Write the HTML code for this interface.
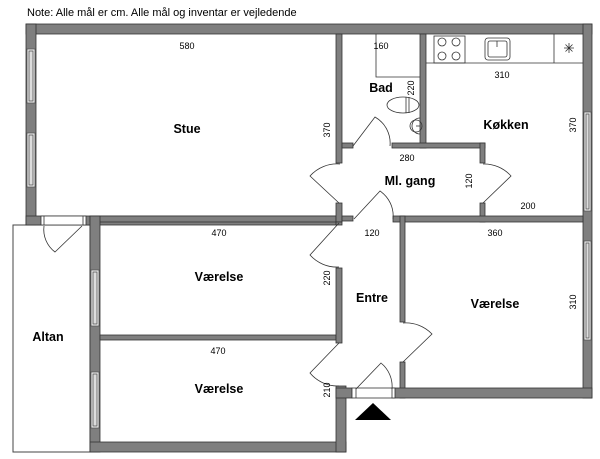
<!DOCTYPE html>
<html><head><meta charset="utf-8"><style>
html,body{margin:0;padding:0;background:#fff;width:600px;height:459px;overflow:hidden}
svg text{font-family:"Liberation Sans",sans-serif;fill:#000}
.d{font-size:9px}
.l{font-size:12.5px;font-weight:bold}
</style></head><body>
<svg width="600" height="459" viewBox="0 0 600 459" xmlns="http://www.w3.org/2000/svg">
<text x="27" y="16" style="font-size:11px">Note: Alle mål er cm. Alle mål og inventar er vejledende</text>
<rect x="13" y="225" width="77" height="227" fill="#fff" stroke="#444" stroke-width="1"/>
<g fill="#7f7f7f" stroke="#333" stroke-width="0.8">
<rect x="26" y="24" width="566" height="10"/>
<rect x="26" y="24" width="10" height="201"/>
<rect x="583" y="24" width="9" height="374"/>
<rect x="26" y="216" width="310" height="9"/>
<rect x="90" y="216" width="246" height="6"/>
<rect x="90" y="216" width="10" height="236"/>
<rect x="90" y="442" width="256" height="10"/>
<rect x="100" y="335" width="236" height="5"/>
<rect x="336" y="34" width="6" height="129"/>
<rect x="336" y="203" width="6" height="19"/>
<rect x="336" y="222" width="6" height="3"/>
<rect x="336" y="268" width="6" height="75"/>
<rect x="336" y="386" width="10" height="66"/>
<rect x="336" y="388" width="16" height="10"/>
<rect x="420" y="34" width="6" height="114"/>
<rect x="342" y="143" width="11" height="5"/>
<rect x="392" y="143" width="93" height="5"/>
<rect x="480" y="143" width="5" height="20"/>
<rect x="480" y="203" width="5" height="19"/>
<rect x="342" y="216" width="11" height="5"/>
<rect x="393" y="216" width="190" height="6"/>
<rect x="400" y="216" width="5" height="106"/>
<rect x="400" y="362" width="5" height="36"/>
<rect x="392" y="388" width="200" height="10"/>
</g>
<g fill="#eee" stroke="#555" stroke-width="0.8">
<rect x="27" y="49" width="8" height="54"/><rect x="29" y="51" width="4" height="50" fill="#ddd"/>
<rect x="27" y="133" width="8" height="54"/><rect x="29" y="135" width="4" height="50" fill="#ddd"/>
<rect x="91" y="270" width="8" height="56"/><rect x="93" y="272" width="4" height="52" fill="#ddd"/>
<rect x="91" y="372" width="8" height="56"/><rect x="93" y="374" width="4" height="52" fill="#ddd"/>
<rect x="584" y="112" width="7" height="99"/><rect x="586" y="114" width="3" height="95" fill="#ddd"/>
<rect x="584" y="241" width="7" height="99"/><rect x="586" y="243" width="3" height="95" fill="#ddd"/>
</g>
<g fill="#fff" stroke="#333" stroke-width="0.8">
<rect x="41" y="216" width="45" height="9"/>
<rect x="352" y="388" width="43" height="10"/>
</g>
<g fill="none" stroke="#333" stroke-width="0.8">
<line x1="44" y1="216" x2="44" y2="225"/><line x1="83" y1="216" x2="83" y2="225"/>
<line x1="356" y1="388" x2="356" y2="398"/><line x1="392" y1="388" x2="392" y2="398"/>
<path d="M82 226 L55 252 A28 28 0 0 1 44 226"/>
<path d="M353 146 L375 117 A30 30 0 0 1 390 146"/>
<path d="M340 164 A36 36 0 0 0 310 176 L339 203"/>
<path d="M483 164 A36 36 0 0 1 511 176 L483 203"/>
<path d="M354 219 L380 191 A30 30 0 0 1 393 219"/>
<path d="M339 223 L310 255 A36 36 0 0 0 339 267"/>
<path d="M339 343 L310 373 A36 36 0 0 0 339 386"/>
<path d="M403 323 A36 36 0 0 1 432 334 L403 362"/>
<path d="M356 389 L381 363 A30 30 0 0 1 392 389"/>
<path d="M376 34 L376 77 L420 77"/>
<ellipse cx="403" cy="105" rx="16" ry="8"/>
<line x1="406" y1="97" x2="406" y2="113"/><line x1="409" y1="97" x2="409" y2="113"/>
<path d="M420 118 A8 8 0 0 0 420 134"/>
<circle cx="416" cy="126" r="6"/>
<line x1="426" y1="63" x2="583" y2="63"/>
<rect x="434" y="36" width="31" height="27"/>
<circle cx="442" cy="42" r="4"/><circle cx="456" cy="42" r="4"/>
<circle cx="442" cy="56" r="4"/><circle cx="456" cy="56" r="4"/>
<rect x="485" y="38" width="25" height="22" rx="3"/>
<rect x="488" y="41" width="19" height="16" rx="2"/>
<line x1="497" y1="41" x2="497" y2="47"/>
<line x1="554" y1="34" x2="554" y2="63"/>
<path d="M564 48 h10 M569 43 v10 M565.5 44.5 l7 7 M572.5 44.5 l-7 7"/>
</g>
<line x1="416" y1="126" x2="420" y2="126" stroke="#333" stroke-width="0.8"/>
<polygon points="373,403 355,420 391,420" fill="#000"/>
<g text-anchor="middle">
<text class="d" x="187" y="49">580</text>
<text class="l" x="187" y="133">Stue</text>
<text class="d" x="381" y="49">160</text>
<text class="l" x="381" y="92">Bad</text>
<text class="d" x="502" y="78">310</text>
<text class="l" x="506" y="129">Køkken</text>
<text class="d" x="407" y="161">280</text>
<text class="l" x="410" y="185">Ml. gang</text>
<text class="d" x="528" y="209">200</text>
<text class="d" x="219" y="236">470</text>
<text class="l" x="219" y="281">Værelse</text>
<text class="d" x="372" y="236">120</text>
<text class="l" x="372" y="302">Entre</text>
<text class="d" x="495" y="236">360</text>
<text class="l" x="495" y="308">Værelse</text>
<text class="l" x="48" y="341">Altan</text>
<text class="d" x="218" y="354">470</text>
<text class="l" x="219" y="393">Værelse</text>
<text class="d" transform="translate(330,130) rotate(-90)">370</text>
<text class="d" transform="translate(414,88) rotate(-90)">220</text>
<text class="d" transform="translate(576,125) rotate(-90)">370</text>
<text class="d" transform="translate(472,181) rotate(-90)">120</text>
<text class="d" transform="translate(330,278) rotate(-90)">220</text>
<text class="d" transform="translate(576,302) rotate(-90)">310</text>
<text class="d" transform="translate(330,390) rotate(-90)">210</text>
</g>
</svg>
</body></html>
